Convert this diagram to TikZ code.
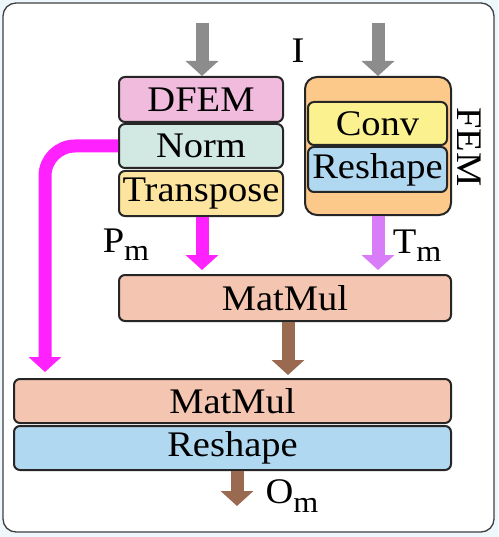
\documentclass[tikz,border=0pt]{standalone}
\usepackage{fontspec}
\setmainfont[FakeStretch=1.07]{Liberation Serif}
\usetikzlibrary{arrows.meta}
\definecolor{bgblue}{HTML}{EEF7FB}
\definecolor{cpink}{HTML}{F0BBDD}
\definecolor{cnorm}{HTML}{D2E8E2}
\definecolor{ctrans}{HTML}{FDE5A0}
\definecolor{cfem}{HTML}{FCC98A}
\definecolor{cconv}{HTML}{FBF18F}
\definecolor{cresh}{HTML}{B0D8F0}
\definecolor{cmat}{HTML}{F4C5B0}
\definecolor{cgray}{HTML}{8C8C8C}
\definecolor{cmag}{HTML}{FF22FF}
\definecolor{cviol}{HTML}{D87CF8}
\definecolor{cbrown}{HTML}{9A6A50}
\newcommand\subm[1]{\raisebox{-0.5ex}{\fontsize{30}{30}\selectfont #1}}
\tikzset{
  blk/.style={draw=black!85, line width=2pt, rounded corners=6pt, inner sep=0pt,
    font=\fontsize{36}{40}\selectfont},
  fat/.style={line width=13pt, -{Triangle[width=32pt,length=15pt]}},
  lbl/.style={font=\fontsize{36}{40}\selectfont, inner sep=0pt}
}
\begin{document}
\begin{tikzpicture}[x=1pt,y=-1pt]
\useasboundingbox (0,0) rectangle (498,537);
\fill[bgblue] (0,0) rectangle (498,537);
\draw[fill=white, draw=black!75, line width=1.3pt, rounded corners=13pt] (3,3) rectangle (494,532);

% left column
\node[blk, fill=cpink, minimum width=164pt, minimum height=45pt] (dfem) at (201,99.5) {DFEM};
\node[blk, fill=cnorm, minimum width=164pt, minimum height=44pt] (norm) at (201,146) {Norm};
\node[blk, fill=ctrans, minimum width=164pt, minimum height=45pt] (trans) at (201,193.5) {Transpose};

% FEM
\node[draw=black!85, line width=2pt, rounded corners=12pt, fill=cfem, minimum width=146pt, minimum height=138pt, inner sep=0pt] (fem) at (378,146) {};
\node[blk, fill=cconv, minimum width=139pt, minimum height=43pt] (conv) at (377.5,123.5) {Conv};
\node[blk, fill=cresh, minimum width=139pt, minimum height=45pt] (resh1) at (377.5,169.5) {Reshape};
\node[lbl, rotate=-90] (femlbl) at (469,147) {FEM};

% MatMuls
\node[blk, fill=cmat, minimum width=332pt, minimum height=46pt] (mm1) at (285,298) {MatMul};
\node[blk, fill=cmat, minimum width=437pt, minimum height=44pt] (mm2) at (232.5,401) {MatMul};
\node[blk, fill=cresh, minimum width=437pt, minimum height=44pt] (resh2) at (232.5,448) {Reshape};

% labels
\node[lbl] (ilbl) at (298,51) {I};
\node[lbl] (pm) at (126,245) {P\subm{m}};
\node[lbl] (tm) at (417,246) {T\subm{m}};
\node[lbl] (om) at (292,496) {O\subm{m}};

% coordinates
\coordinate (in1) at (202,23);
\coordinate (in2) at (378,23);
\coordinate (pmtip) at (202,270);
\coordinate (tmtip) at (378,270);
\coordinate (mmtip) at (288,375);
\coordinate (outtip) at (237,506);
\coordinate (longtip) at (45,372);

% arrows
\draw[fat, cgray] (in1) -- (in1 |- dfem.north);
\draw[fat, cgray] (in2) -- (in2 |- fem.north);
\draw[fat, cmag] (pmtip |- trans.south) -- (pmtip);
\draw[fat, cviol] (tmtip |- fem.south) -- (tmtip);
\draw[fat, cbrown] (mmtip |- mm1.south) -- (mmtip);
\draw[fat, cbrown] (outtip |- resh2.south) -- (outtip);
\draw[fat, cmag, rounded corners=30pt] (norm.west) -- (longtip |- norm.west) -- (longtip);
\end{tikzpicture}
\end{document}
